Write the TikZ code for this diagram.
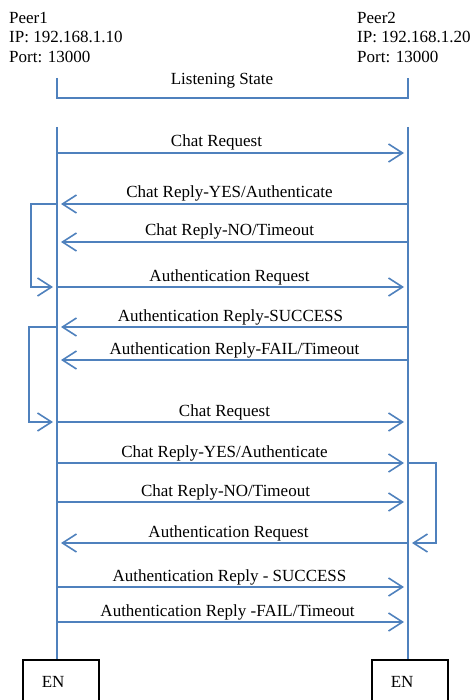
\documentclass[tikz,border=0pt]{standalone}
\usepackage{fontspec}
\setmainfont{Liberation Serif}
\usetikzlibrary{arrows.meta}
\definecolor{msgblue}{RGB}{79,129,189}
\newcommand{\msgfont}{\fontsize{17}{19.5}\selectfont}
\tikzstyle{lifeline}=[draw=msgblue, line width=1.6pt]
\tikzstyle{msg}=[lifeline, shorten >=4pt,
                 -{Straight Barb[length=14pt, width=18pt, line width=1.6pt]}]
\tikzstyle{msglabel}=[anchor=base, yshift=6pt, inner sep=0, font=\msgfont]
\tikzstyle{peertext}=[anchor=north west, inner sep=0, align=left, font=\msgfont]
% end-of-session boxes, the text sits a bit left of centre
\tikzstyle{endbox}=[draw=black, line width=1.5pt, anchor=north west, font=\msgfont,
                    minimum height=44pt, text width=38pt, inner xsep=19pt, align=left]

\begin{document}
\begin{tikzpicture}[x=1pt, y=-1pt]
    \useasboundingbox (0,0) rectangle (473,700);

    \node[peertext] (peer1) at (9,12) {Peer1\\IP: 192.168.1.10\\Port: 13000};
    \node[peertext] (peer2) at (357,12) {Peer2\\IP: 192.168.1.20\\Port: 13000};

    % listening bracket
    \coordinate (LS1) at (57,78);
    \coordinate (LS2) at (408,78);
    \draw[lifeline] (LS1) -- ++(0,20) -| (LS2);
    \node[msglabel] (listen) at (222,91) {Listening State};

    % lifelines down to the EN boxes
    \coordinate (P1top) at (57,127);
    \coordinate (P2top) at (408,127);
    \node[endbox] (EN1) at (22,659) {EN};
    \node[endbox] (EN2) at (371,659) {EN};
    \draw[lifeline] (P1top) -- (P1top |- EN1.north);
    \draw[lifeline] (P2top) -- (P2top |- EN2.north);

    % message rows on both lifelines
    \foreach \n/\y in {1/153, 2/204, 3/242, 4/287, 5/327, 6/360,
                       7/422, 8/463, 9/502, 10/543, 11/587, 12/622} {
        \coordinate (L\n) at (57,\y);
        \coordinate (R\n) at (408,\y);
    }

    \draw[msg] (L1) -- node[msglabel, xshift=-16pt] {Chat Request} (R1);
    \draw[msg] (R2) -- node[msglabel, xshift=-3pt] {Chat Reply-YES/Authenticate} (L2);
    \draw[msg] (R3) -- node[msglabel, xshift=-3pt] {Chat Reply-NO/Timeout} (L3);
    \draw[msg] (L4) -- node[msglabel, xshift=-3pt] {Authentication Request} (R4);
    \draw[msg] (R5) -- node[msglabel, xshift=-2pt] {Authentication Reply-SUCCESS} (L5);
    \draw[msg] (R6) -- node[msglabel, xshift=2pt] {Authentication Reply-FAIL/Timeout} (L6);
    \draw[msg] (L7) -- node[msglabel, xshift=-8pt] {Chat Request} (R7);
    \draw[msg] (L8) -- node[msglabel, xshift=-8pt] {Chat Reply-YES/Authenticate} (R8);
    \draw[msg] (L9) -- node[msglabel, xshift=-7pt] {Chat Reply-NO/Timeout} (R9);
    \draw[msg] (R10) -- node[msglabel, xshift=-4pt] {Authentication Request} (L10);
    \draw[msg] (L11) -- node[msglabel, xshift=-3pt] {Authentication Reply - SUCCESS} (R11);
    \draw[msg] (L12) -- node[msglabel, xshift=-5pt] {Authentication Reply -FAIL/Timeout} (R12);

    % loops to the next step
    \draw[msg] (L2) -- ++(-26,0) |- (L4);
    \draw[msg] (L5) -- ++(-28,0) |- (L7);
    \draw[msg] (R8) -- ++(28,0) |- (R10);
\end{tikzpicture}
\end{document}
